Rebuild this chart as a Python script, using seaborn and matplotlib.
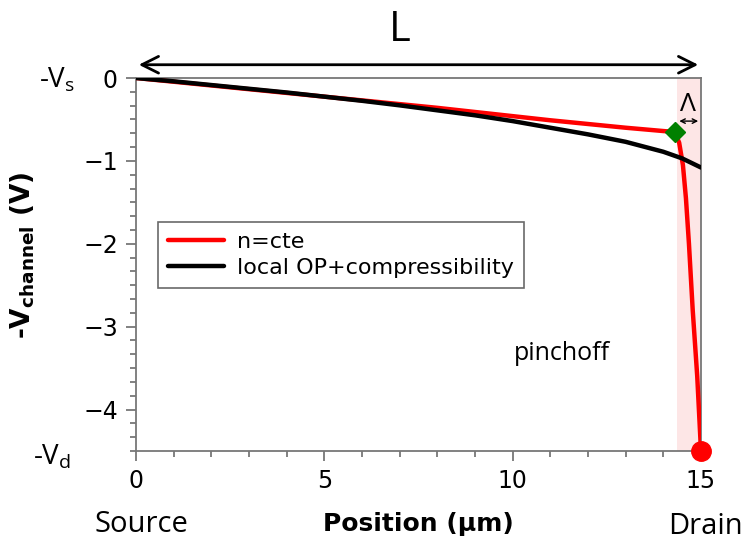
import numpy as np
import pandas as pd
import seaborn as sns
import matplotlib
matplotlib.use("Agg")
import matplotlib.pyplot as plt
from matplotlib.ticker import MultipleLocator

# ---- data ----
red_x = [0, 1, 2, 3, 4, 5, 6, 7, 8, 9, 10, 11, 12, 13, 14, 14.3, 14.42, 14.52, 14.6, 14.68, 14.78, 14.9, 15.0]
red_y = [0, -0.045, -0.09, -0.135, -0.18, -0.225, -0.27, -0.315, -0.36, -0.41, -0.46, -0.51, -0.555, -0.60, -0.64, -0.65,
         -0.78, -1.05, -1.45, -2.0, -2.8, -3.6, -4.5]
black_x = [0, 1, 2, 3, 4, 5, 6, 7, 8, 9, 10, 11, 12, 13, 14, 14.5, 15]
black_y = [0, -0.04, -0.085, -0.13, -0.175, -0.225, -0.275, -0.33, -0.39, -0.45, -0.52, -0.60, -0.68, -0.77, -0.89, -0.97, -1.08]
labels = ["n=cte", "local OP+compressibility"]
pinch_pt = (14.3, -0.65)
drain_pt = (15.0, -4.5)
shade_x = (14.35, 15.0)
x_ticks = [0, 5, 10, 15]
y_ticks = [0, -1, -2, -3, -4]

df = pd.concat([
    pd.DataFrame({"x": red_x, "y": red_y, "model": labels[0]}),
    pd.DataFrame({"x": black_x, "y": black_y, "model": labels[1]}),
])

sns.set_style("ticks")
plt.rcParams["font.family"] = ["DejaVu Sans"]
plt.rcParams["text.color"] = "black"
plt.rcParams["axes.labelcolor"] = "black"
plt.rcParams["xtick.labelcolor"] = "black"
plt.rcParams["ytick.labelcolor"] = "black"

fig = plt.figure(figsize=(7.44, 5.41), dpi=100)
ax = fig.add_axes([136/744, 1-451/541, 565/744, 373/541])

ax.axvspan(*shade_x, color="#fde6e6", zorder=0, lw=0)

sns.lineplot(data=df, x="x", y="y", hue="model", palette={labels[0]: "red", labels[1]: "black"},
             hue_order=labels, sort=False, estimator=None, lw=3.2, ax=ax, zorder=3)

ax.plot(*pinch_pt, marker="D", color="green", ms=10, zorder=5)
ax.plot(*drain_pt, marker="o", color="red", ms=14, zorder=5, clip_on=False)

ax.set_xlim(0, 15)
ax.set_ylim(-4.5, 0)
ax.set_xticks(x_ticks)
ax.set_yticks(y_ticks)
ax.xaxis.set_minor_locator(MultipleLocator(1))
ax.yaxis.set_minor_locator(MultipleLocator(1/6))
ax.tick_params(which="major", length=7, width=1.3, color="#777777", labelsize=17, pad=6,
               labelcolor="black")
ax.tick_params(which="minor", length=4, width=1.3, color="#777777")
for s in ax.spines.values():
    s.set_color("#777777")
    s.set_linewidth(1.3)

ax.set_xlabel("Position (μm)", fontsize=18, fontweight="bold", labelpad=14, color="black")
ax.set_ylabel(r"-V$_{\mathbf{channel}}$ (V)", fontsize=19, fontweight="bold", color="black")
ax.yaxis.set_label_coords(-0.175, 0.525)

leg = ax.legend(loc="upper left", bbox_to_anchor=(0.039, 0.614), fontsize=16, frameon=True,
                fancybox=False, handlelength=2.5, borderpad=0.45, labelspacing=0.25,
                handletextpad=0.6, borderaxespad=0)
leg.get_frame().set_edgecolor("#444444")
leg.get_frame().set_linewidth(1.2)
for h in leg.get_lines():
    h.set_linewidth(3.2)
for t in leg.get_texts():
    t.set_color("black")

ann_font = ["Open Sans", "DejaVu Sans"]
# L arrow
ax.annotate("", xy=(0.0, 0.16), xytext=(15.0, 0.16), xycoords="data",
            arrowprops=dict(arrowstyle="<->", lw=2, color="black", mutation_scale=30),
            annotation_clip=False)
ax.text(7.0, 0.58, "L", fontsize=30, ha="center", va="center", family=ann_font)
# Lambda
ax.annotate("", xy=(14.35, -0.52), xytext=(15.0, -0.52),
            arrowprops=dict(arrowstyle="<->", lw=1, color="black", mutation_scale=8),
            annotation_clip=False)
ax.text(14.66, -0.32, "Λ", fontsize=19, ha="center", va="center", family=ann_font)
ax.text(11.3, -3.32, "pinchoff", fontsize=18, ha="center", va="center", family=ann_font)

fig.text(57/744, 1-80/541, "-V$_\\mathregular{s}$", fontsize=20, ha="center", va="center", family=ann_font)
fig.text(52/744, 1-457/541, "-V$_\\mathregular{d}$", fontsize=20, ha="center", va="center", family=ann_font)
fig.text(141/744, 1-525/541, "Source", fontsize=21, ha="center", va="center", family=ann_font)
fig.text(705/744, 1-527/541, "Drain", fontsize=21, ha="center", va="center", family=ann_font)

fig.savefig("out.png", dpi=100)
